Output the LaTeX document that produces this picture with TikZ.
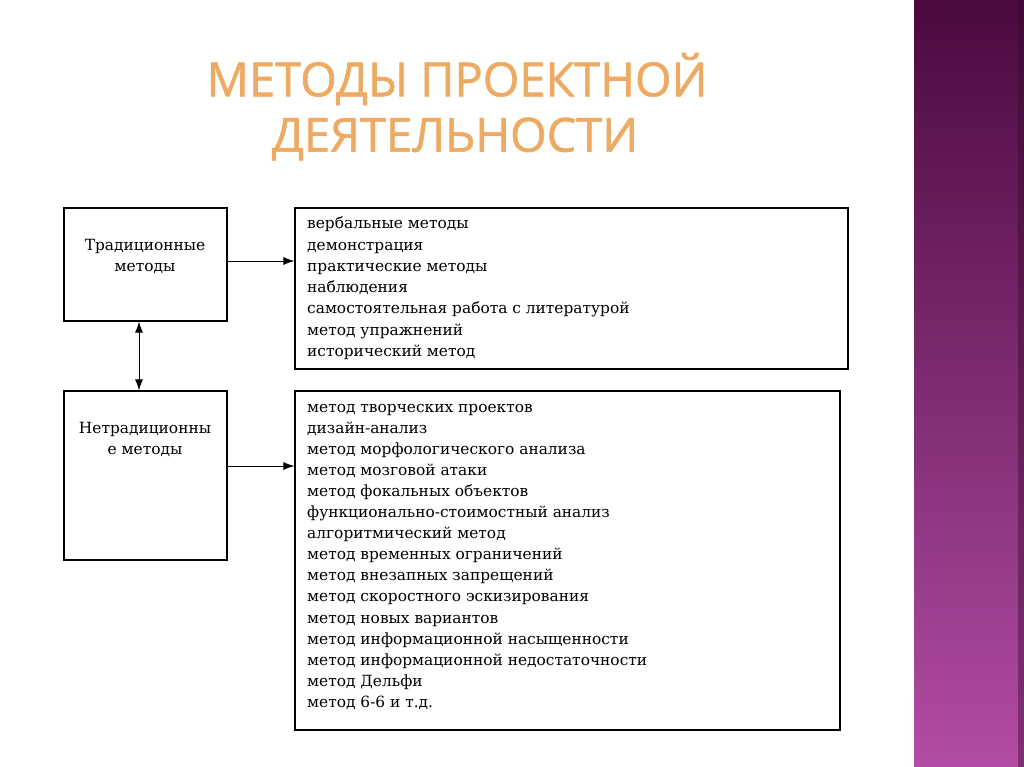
\documentclass[tikz,border=0pt]{standalone}
\usepackage{fontspec}
\setmainfont{DejaVu Serif}
\newfontfamily\titlefont[FakeBold=1.2]{Open Sans}
\usetikzlibrary{arrows.meta}
\definecolor{stripTop}{HTML}{4A0A3E}
\definecolor{stripBot}{HTML}{B24CA4}
\definecolor{titleOrange}{HTML}{EDAA62}
\tikzset{
  methodbox/.style={draw, line width=1.1pt, rectangle, inner sep=0pt},
  itemtext/.style={anchor=base west, inner sep=0pt, font=\fontsize{15.4}{18}\selectfont},
  kindtext/.style={anchor=base, inner sep=0pt, font=\fontsize{15.4}{18}\selectfont},
  titletext/.style={inner sep=0pt, text=titleOrange, font=\titlefont\fontsize{47}{54}\selectfont},
  link/.style={-{Latex[length=11pt,width=8pt]}, line width=1pt}
}
\begin{document}
\begin{tikzpicture}[x=1pt,y=-1pt]
\useasboundingbox (0,0) rectangle (1024,767);
\fill[white] (0,0) rectangle (1024,767);
% purple strip on the right
\shade[top color=stripTop, bottom color=stripBot] (914,0) rectangle (1024,767);
\fill[stripTop!70!black, opacity=0.4] (1018,0) rectangle (1024,767);

% title
\node[titletext] (title1) at (457,79) {МЕТОДЫ ПРОЕКТНОЙ};
\node[titletext] (title2) at (455,139) {ДЕЯТЕЛЬНОСТИ};

% boxes
\node[methodbox, minimum width=163pt, minimum height=113pt] (trad) at (145.5,264.5) {};
\node[methodbox, minimum width=163pt, minimum height=169pt] (nontrad) at (145.5,475.5) {};
\node[methodbox, minimum width=553pt, minimum height=161pt] (tradlist) at (571.5,288.5) {};
\node[methodbox, minimum width=545pt, minimum height=339pt] (nontradlist) at (567.5,560.5) {};

% box titles
\node[kindtext] (trad1) at (145,250) {Традиционные};
\node[kindtext] (trad2) at (145,271) {методы};
\node[kindtext] (nontrad1) at (145,433) {Нетрадиционны};
\node[kindtext] (nontrad2) at (145,454) {е методы};

% traditional methods
\foreach \t [count=\i from 0] in {вербальные методы, демонстрация, практические методы,
  наблюдения, самостоятельная работа с литературой, метод упражнений, исторический метод}
  \node[itemtext] (tm\i) at (307,229+21.2*\i) {\t};

% non-traditional methods
\foreach \t [count=\i from 0] in {метод творческих проектов, дизайн-анализ,
  метод морфологического анализа, метод мозговой атаки, метод фокальных объектов,
  функционально-стоимостный анализ, алгоритмический метод,
  метод временных ограничений, метод внезапных запрещений,
  метод скоростного эскизирования, метод новых вариантов,
  метод информационной насыщенности, метод информационной недостаточности,
  метод Дельфи, метод 6-6 и т.д.}
  \node[itemtext] (nm\i) at (307,412+21.1*\i) {\t};

% connectors
\draw[link] (trad.east |- 0,261) -- (tradlist.west |- 0,261);
\draw[link] (nontrad.east |- 0,466) -- (nontradlist.west |- 0,466);
\draw[link, {Latex[length=11pt,width=8pt]}-{Latex[length=11pt,width=8pt]}] (trad.south -| 139,0) -- (nontrad.north -| 139,0);
\end{tikzpicture}
\end{document}
